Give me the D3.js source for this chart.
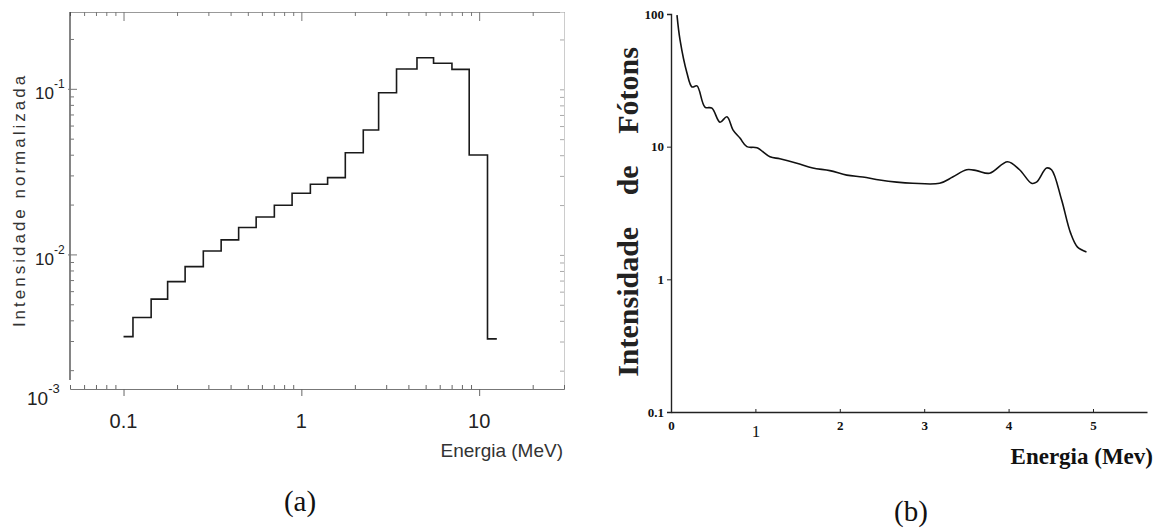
<!DOCTYPE html>
<html>
<head>
<meta charset="utf-8">
<script src="https://cdn.jsdelivr.net/npm/d3@7"></script>
<style>
  body { margin: 0; background: #fff; }
  svg { display: block; }
</style>
</head>
<body>
<svg id="chart" width="1161" height="530"></svg>
<script>
// panel (a): histogram, bin edges (MeV) and normalised intensity per bin
const histEdges = [0.1, 0.113, 0.143, 0.177, 0.222, 0.281, 0.354, 0.444, 0.557, 0.705, 0.887,
  1.124, 1.405, 1.767, 2.23, 2.72, 3.43, 4.47, 5.54, 7.03, 8.79, 11.14, 12.57];
const histValues = [0.00321, 0.00419, 0.00541, 0.0069, 0.0085, 0.01057, 0.01232, 0.01463,
  0.01695, 0.01995, 0.02355, 0.0267, 0.0293, 0.0414, 0.0568, 0.0953, 0.1327, 0.155,
  0.1436, 0.132, 0.0401, 0.00311];
const histXLabels = [0.1, 1, 10];
const histYLabels = [{ v: 0.1, exp: "-1" }, { v: 0.01, exp: "-2" }];

// panel (b): photon intensity spectrum
const specEnergy = [0.071, 0.107, 0.189, 0.249, 0.308, 0.402, 0.485, 0.58, 0.663, 0.734, 0.817,
  0.899, 1.018, 1.172, 1.29, 1.491, 1.68, 1.882, 2.083, 2.272, 2.473, 2.675, 2.864, 3.183,
  3.337, 3.503, 3.621, 3.775, 3.988, 4.13, 4.272, 4.331, 4.45, 4.509, 4.627, 4.734, 4.817, 4.923];
const specIntensity = [98, 63.7, 35.9, 28.2, 28.7, 19.9, 19.5, 15.3, 16.8, 13.4, 11.6,
  10, 9.8, 8.4, 8.1, 7.5, 6.9, 6.6, 6.1, 5.9, 5.6, 5.4, 5.3, 5.3,
  5.9, 6.7, 6.6, 6.3, 7.7, 6.7, 5.3, 5.4, 6.9, 6.7, 4.0, 2.24, 1.75, 1.61];
const specXTicks = [0, 1, 2, 3, 4, 5];
const specYTicks = [100, 10, 1, 0.1];

const svg = d3.select("#chart");
svg.append("rect").attr("width", 1161).attr("height", 530).attr("fill", "#fff");

/////
// Panel (a)
/////
const sans = "'Liberation Sans', Arial, sans-serif";
const serif = "'Liberation Serif', 'Times New Roman', serif";

const xA = d3.scaleLog().domain([0.05, 30]).range([70, 564]);
const yA = d3.scaleLog().domain([0.00155, 0.293]).range([389, 12]);
const gA = svg.append("g");

// frame: top and right axes in light grey with inward ticks
gA.append("g")
  .attr("transform", `translate(0,${yA.range()[1]})`)
  .call(d3.axisTop(xA).tickValues(xA.ticks()).tickSize(-4).tickFormat(""))
  .call(g => g.select(".domain").attr("stroke", "#999"))
  .call(g => g.selectAll(".tick line").attr("stroke", "#777")
    .attr("y2", d => histXLabels.includes(d) ? 9 : 4));

gA.append("g")
  .attr("transform", `translate(${xA.range()[1]},0)`)
  .call(d3.axisRight(yA).tickValues(yA.ticks()).tickSize(-4).tickFormat(""))
  .call(g => g.select(".domain").attr("stroke", "#ccc"))
  .call(g => g.selectAll(".tick line").attr("stroke", "#aaa"));

// bottom axis
gA.append("g")
  .attr("transform", `translate(0,${yA.range()[0]})`)
  .call(d3.axisBottom(xA).tickValues(xA.ticks()).tickSize(-4).tickFormat(""))
  .call(g => g.select(".domain").attr("stroke", "#777"))
  .call(g => g.selectAll(".tick line").attr("stroke", "#666")
    .attr("y2", d => histXLabels.includes(d) ? 7 : -4));

gA.selectAll("text.xlab")
  .data(histXLabels)
  .enter()
  .append("text")
  .attr("class", "xlab")
  .attr("x", d => xA(d))
  .attr("y", 428)
  .attr("text-anchor", "middle")
  .attr("font-family", sans)
  .attr("font-size", 20)
  .attr("fill", "#222")
  .text(d => d);

// left axis
gA.append("line")
  .attr("x1", xA.range()[0]).attr("x2", xA.range()[0])
  .attr("y1", yA.range()[1]).attr("y2", 380)
  .attr("stroke", "#333").attr("stroke-width", 1.2);
gA.selectAll("line.ytick")
  .data(yA.ticks())
  .enter()
  .append("line")
  .attr("class", "ytick")
  .attr("x1", d => xA.range()[0] - ([0.1, 0.01].includes(d) ? 2 : 0))
  .attr("x2", d => xA.range()[0] + ([0.1, 0.01].includes(d) ? 7 : 4))
  .attr("y1", d => yA(d)).attr("y2", d => yA(d))
  .attr("stroke", "#777");

const yLab = gA.selectAll("text.ylab")
  .data(histYLabels)
  .enter()
  .append("text")
  .attr("class", "ylab")
  .attr("x", 35)
  .attr("y", d => yA(d.v) + 10)
  .attr("font-family", sans)
  .attr("font-size", 17)
  .attr("fill", "#222");
yLab.append("tspan").text("10");
yLab.append("tspan").attr("dy", -11).attr("font-size", 12).text(d => d.exp);

// corner label of the bottom axis
const cornerLab = gA.append("text")
  .attr("x", 27).attr("y", yA.range()[0] + 16)
  .attr("font-family", sans).attr("font-size", 19).attr("fill", "#222");
cornerLab.append("tspan").text("10");
cornerLab.append("tspan").attr("dy", -12).attr("font-size", 13).text("-3");

gA.append("text")
  .attr("transform", "translate(25,200) rotate(-90)")
  .attr("text-anchor", "middle")
  .attr("font-family", sans)
  .attr("font-size", 17)
  .attr("letter-spacing", 3)
  .attr("fill", "#333")
  .text("Intensidade normalizada");

gA.append("text")
  .attr("x", 563).attr("y", 457)
  .attr("text-anchor", "end")
  .attr("font-family", sans)
  .attr("font-size", 19)
  .attr("fill", "#333")
  .text("Energia (MeV)");

// histogram
const histPoints = histValues.map((v, i) => [histEdges[i], v]);
histPoints.push([histEdges[histEdges.length - 1], histValues[histValues.length - 1]]);
gA.append("path")
  .datum(histPoints)
  .attr("fill", "none")
  .attr("stroke", "#1a1a1a")
  .attr("stroke-width", 1.6)
  .attr("d", d3.line()
    .x(d => xA(d[0]))
    .y(d => yA(d[1]))
    .curve(d3.curveStepAfter));

svg.append("text")
  .attr("x", 300).attr("y", 511)
  .attr("text-anchor", "middle")
  .attr("font-family", serif)
  .attr("font-size", 29)
  .attr("fill", "#111")
  .text("(a)");

/////
// Panel (b)
/////
const xB = d3.scaleLinear().domain([0, 5.64]).range([671, 1147]);
const yB = d3.scaleLog().domain([0.1, 100]).range([412, 14]);
const gB = svg.append("g");

gB.append("g")
  .attr("transform", `translate(${xB.range()[0]},0)`)
  .call(d3.axisLeft(yB).tickValues(specYTicks).tickSize(4).tickPadding(3)
    .tickFormat(d => d))
  .call(g => g.select(".domain").attr("stroke", "#222").attr("stroke-width", 1.4))
  .call(g => g.selectAll(".tick line").attr("stroke", "#222"))
  .call(g => g.selectAll(".tick text")
    .attr("font-family", serif)
    .attr("font-size", 13)
    .attr("font-weight", "bold")
    .attr("fill", "#111"));

gB.append("g")
  .attr("transform", `translate(0,${yB.range()[0]})`)
  .call(d3.axisBottom(xB).tickValues(specXTicks).tickSizeInner(-3).tickSizeOuter(0)
    .tickPadding(9).tickFormat(d => d))
  .call(g => g.select(".domain").attr("stroke", "#222").attr("stroke-width", 1.6))
  .call(g => g.selectAll(".tick line").attr("stroke", "#222"))
  .call(g => g.selectAll(".tick text")
    .attr("font-family", serif)
    .attr("font-size", d => d === 1 ? 17 : 13)
    .attr("dy", d => d === 1 ? "0.95em" : "0.71em")
    .attr("font-weight", d => d === 1 ? "normal" : "bold")
    .attr("fill", "#111"));

gB.append("path")
  .datum(specEnergy.map((e, i) => [e, specIntensity[i]]))
  .attr("fill", "none")
  .attr("stroke", "#111")
  .attr("stroke-width", 1.6)
  .attr("d", d3.line()
    .x(d => xB(d[0]))
    .y(d => yB(d[1]))
    .curve(d3.curveCatmullRom.alpha(0.5)));

gB.append("text")
  .attr("transform", "translate(638,212) rotate(-90)")
  .attr("text-anchor", "middle")
  .attr("font-family", serif)
  .attr("font-size", 30)
  .attr("font-weight", "bold")
  .attr("word-spacing", 24)
  .attr("fill", "#222")
  .style("white-space", "pre")
  .text("Intensidade de Fótons");

gB.append("text")
  .attr("x", 1153).attr("y", 464)
  .attr("text-anchor", "end")
  .attr("font-family", serif)
  .attr("font-size", 23)
  .attr("font-weight", "bold")
  .attr("fill", "#111")
  .text("Energia (Mev)");

svg.append("text")
  .attr("x", 911).attr("y", 521)
  .attr("text-anchor", "middle")
  .attr("font-family", serif)
  .attr("font-size", 29)
  .attr("fill", "#111")
  .text("(b)");
</script>
</body>
</html>
